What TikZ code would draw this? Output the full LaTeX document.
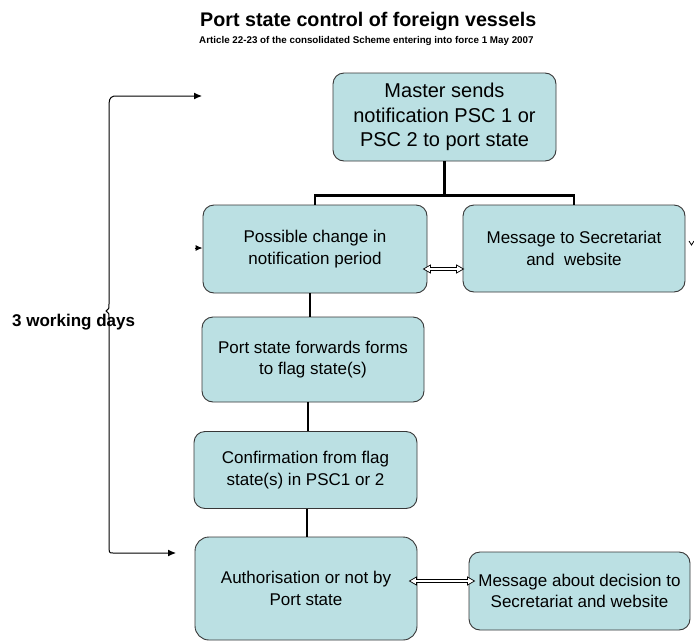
\documentclass[tikz,border=0pt]{standalone}
\usepackage{fontspec}
\setmainfont{Liberation Sans}
\usetikzlibrary{calc,arrows.meta}
\definecolor{boxfill}{RGB}{187,224,227}
\definecolor{boxline}{RGB}{55,55,55}
\begin{document}
\begin{tikzpicture}[x=1pt,y=-1pt,
  flowbox/.style={draw=boxline, line width=0.9pt, fill=boxfill, rounded corners=11pt,
    align=center, inner sep=0pt, font=\fontsize{17}{21.5}\selectfont},
  treelink/.style={line width=2.6pt, black},
  chainlink/.style={line width=1.8pt, black},
  bracelink/.style={line width=1pt, black},
  hollow/.style={draw=black, fill=white, line width=0.7pt},
  tip/.style={-{Latex[length=8pt,width=7pt]}}]
\useasboundingbox (0,0) rectangle (694,643);

% titles
\node[anchor=base west, inner sep=0pt, font=\bfseries\fontsize{19.7}{22}\selectfont] (title) at (200,26) {Port state control of foreign vessels};
\node[anchor=base west, inner sep=0pt, font=\bfseries\fontsize{9.8}{11}\selectfont] (subtitle) at (199,43) {Article 22-23 of the consolidated Scheme entering into force 1 May 2007};

% boxes
\node[flowbox, minimum width=223pt, minimum height=88pt, font=\fontsize{20}{24.5}\selectfont] (b1) at (444.5,117) {Master sends\\notification PSC 1 or\\PSC 2 to port state};
\node[flowbox, minimum width=224pt, minimum height=88pt] (b2) at (315,249) {Possible change in\\notification period};
\node[flowbox, minimum width=222pt, minimum height=87pt] (b3) at (574,248.5) {Message to Secretariat\\and \ website};
\node[flowbox, minimum width=222pt, minimum height=85pt] (b4) at (313,359.5) {Port state forwards forms\\to flag state(s)};
\node[flowbox, minimum width=223pt, minimum height=77pt] (b5) at (305.5,470) {Confirmation from flag\\state(s) in PSC1 or 2};
\node[flowbox, minimum width=222pt, minimum height=103pt, rounded corners=14pt] (b6) at (306,588.5) {Authorisation or not by\\Port state};
\node[flowbox, minimum width=221pt, minimum height=78pt] (b7) at (579.5,591) {Message about decision to\\Secretariat and website};

% tree from b1
\coordinate (j) at ($(b1.south)+(0,34)$);
\draw[treelink] (b1.south) -- (j);
\draw[treelink] (b2.north) |- (j) -| (b3.north);

% chain
\draw[chainlink] ([xshift=-5pt]b2.south) -- ([xshift=-5pt]b2.south |- b4.north);
\draw[chainlink] ([xshift=-5pt]b4.south) -- ([xshift=-5pt]b4.south |- b5.north);
\draw[chainlink] ([xshift=1.5pt]b5.south) -- ([xshift=1.5pt]b5.south |- b6.north);

% hollow double arrows
\coordinate (a1) at ($(b2.east)+(-4,20)$);
\coordinate (a2) at ($(b3.west)+(1,20.5)$);
\draw[hollow] (a1) -- ++(7,-4) -- ++(0,2.5) -- ($(a2)+(-7,-1.5)$) -- ++(0,-2.5) -- (a2)
  -- ++(-7,4) -- ++(0,-2.5) -- ($(a1)+(7,1.5)$) -- ++(0,2.5) -- cycle;
\coordinate (c1) at ($(b6.east)+(-8,-7.5)$);
\coordinate (c2) at ($(b7.west)+(6,-10)$);
\draw[hollow] (c1) -- ++(7,-4) -- ++(0,2.5) -- ($(c2)+(-7,-1.5)$) -- ++(0,-2.5) -- (c2)
  -- ++(-7,4) -- ++(0,-2.5) -- ($(c1)+(7,1.5)$) -- ++(0,2.5) -- cycle;

% small arrow into b2
\coordinate (s2) at ($(b2.west)+(-8,-1)$);
\draw[bracelink, -{Latex[length=7pt,width=6pt]}] (s2) -- ($(b2.west)+(0,-1)$);

% small tick right of b3
\coordinate (tk) at (691.5,245);
\draw[line width=0.8pt] (689,241) -- (tk) -- (694,241);

% brace with arrows
\coordinate (tt) at (202,96);
\coordinate (bt) at (176,553);
\draw[bracelink, {Latex[length=8pt,width=7pt]}-{Latex[length=8pt,width=7pt]}]
  (bt) -- (113,553) .. controls (109,553) .. (109,544) -- (109,318)
  .. controls (109,313) .. (106,311) .. controls (109,309) .. (109,304)
  -- (109,114) .. controls (109,98) .. (114,96) -- (tt);

% label
\node[anchor=base west, inner sep=0pt, font=\bfseries\fontsize{17}{20}\selectfont] (lbl) at (12,326) {3 working days};
\end{tikzpicture}
\end{document}
